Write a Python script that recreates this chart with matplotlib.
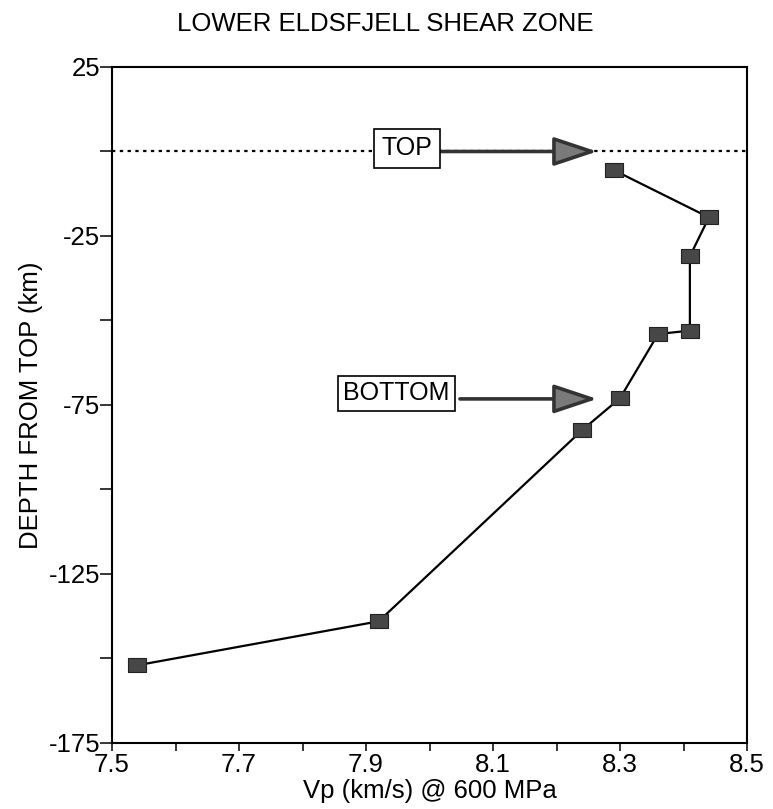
import numpy as np
import matplotlib
matplotlib.use('Agg')
import matplotlib.pyplot as plt

plt.rcParams['font.family'] = ['Liberation Sans', 'DejaVu Sans']
plt.rcParams['axes.unicode_minus'] = False

# Vp at 600 MPa vs depth below top of the shear zone
vp = [8.29, 8.44, 8.41, 8.41, 8.36, 8.30, 8.24, 7.92, 7.54]
depth = [-5.5, -19.5, -31, -53, -54, -73, -82.5, -139, -152]

x_major = [7.5, 7.7, 7.9, 8.1, 8.3, 8.5]
x_minor = [7.6, 7.8, 8.0, 8.2, 8.4]
y_major = [25, -25, -75, -125, -175]
y_minor = [0, -50, -100, -150]

top_depth = 0
bottom_depth = -73.2
arrow_tip_vp = 8.264

fig = plt.figure(figsize=(7.73, 8.09), dpi=100)
ax = fig.add_axes([0.1449, 0.0816, 0.8215, 0.8356])

# top of zone (dotted)
ax.plot([7.5, 8.5], [top_depth, top_depth], color='black', lw=1.6,
        linestyle=(0, (1.5, 2.0)), zorder=1)

# profile
rect = [(-1, -0.76), (1, -0.76), (1, 0.76), (-1, 0.76), (-1, -0.76)]
ax.plot(vp, depth, color='black', lw=1.6, marker=rect, markersize=13,
        markerfacecolor='#474747', markeredgecolor='#222222',
        markeredgewidth=0.8, zorder=3)

# labelled arrows
arrow_kw = dict(arrowstyle='-|>,head_length=1.35,head_width=0.45',
                mutation_scale=20, color='#333333', fc='#7a7a7a',
                lw=2.6, shrinkA=0, shrinkB=0)
ax.annotate('', xy=(arrow_tip_vp, top_depth), xytext=(8.017, top_depth),
            arrowprops=arrow_kw, zorder=4)
ax.annotate('', xy=(arrow_tip_vp, bottom_depth), xytext=(8.048, bottom_depth),
            arrowprops=arrow_kw, zorder=4)
ax.text(7.965, 1.0, 'TOP', fontsize=18, ha='center', va='center',
        bbox=dict(boxstyle='square,pad=0.3', fc='white', ec='black', lw=1.2), zorder=5)
ax.text(7.948, -71.6, 'BOTTOM', fontsize=18, ha='center', va='center',
        bbox=dict(boxstyle='square,pad=0.22', fc='white', ec='black', lw=1.2), zorder=5)

ax.set_xlim(7.5, 8.5)
ax.set_ylim(-175, 25)
ax.set_xticks(x_major)
ax.set_xticks(x_minor, minor=True)
ax.set_yticks(y_major)
ax.set_yticks(y_minor, minor=True)
ax.set_xticklabels([f'{v:.1f}' for v in x_major])
ax.set_yticklabels([str(v) for v in y_major])

ax.tick_params(axis='x', which='both', direction='out', length=6, width=1.1,
               labelsize=18.5, pad=1)
ax.tick_params(axis='y', which='both', direction='out', length=8.6, width=1.1,
               labelsize=18.5, pad=0)
for sp in ax.spines.values():
    sp.set_linewidth(1.5)

ax.set_xlabel('Vp (km/s) @ 600 MPa', fontsize=18.5)
ax.xaxis.set_label_coords(0.5, -0.053)
ax.xaxis.label.set_va('top')
ax.set_ylabel('DEPTH FROM TOP (km)', fontsize=18.5)
ax.yaxis.set_label_coords(-0.108, 0.5)

fig.text(0.4987, 0.970, 'LOWER ELDSFJELL SHEAR ZONE', fontsize=18.5,
         ha='center', va='center')

fig.savefig('out.png', dpi=100)
